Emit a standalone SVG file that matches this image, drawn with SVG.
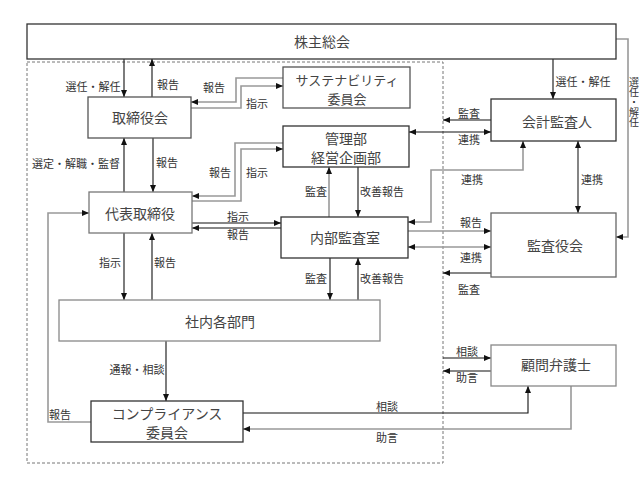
<svg xmlns="http://www.w3.org/2000/svg" width="644" height="483" viewBox="0 0 644 483">
<defs>
<style>
.bx{fill:#fff;stroke:#333;stroke-width:1.3}
.bg{fill:#fff;stroke:#777;stroke-width:1.3}
.t{font-family:"Noto Sans CJK JP","Noto Sans CJK SC",sans-serif;font-size:14px;fill:#444;text-anchor:middle;dominant-baseline:central}
.t13{font-size:13px}
.l{font-family:"Noto Sans CJK JP","Noto Sans CJK SC",sans-serif;font-size:11px;fill:#333;text-anchor:middle;dominant-baseline:central}
.v{font-family:"Noto Sans CJK JP","Noto Sans CJK SC",sans-serif;font-size:10px;fill:#333;writing-mode:vertical-rl;text-anchor:start}
.k{fill:none;stroke:#111;stroke-width:1.1;marker-end:url(#ah)}
.g{fill:none;stroke:#999;stroke-width:1.6;marker-end:url(#ah)}
.d{marker-start:url(#as)}
.zone{fill:none;stroke:#777;stroke-width:1;stroke-dasharray:3 2}
</style>
<marker id="ah" markerUnits="userSpaceOnUse" markerWidth="7" markerHeight="6" refX="7" refY="3" orient="auto"><path d="M0,0 L7,3 L0,6 z" fill="#111"/></marker>
<marker id="as" markerUnits="userSpaceOnUse" markerWidth="7" markerHeight="6" refX="7" refY="3" orient="auto-start-reverse"><path d="M0,0 L7,3 L0,6 z" fill="#111"/></marker>
</defs>
<rect width="644" height="483" fill="#fff"/>
<rect class="zone" x="27" y="62" width="416" height="401"/>

<g id="connectors">
<path class="k" d="M124,59 V97"/>
<path class="k" d="M152,97 V59"/>
<path class="g" d="M283,78 H236 V102 H191"/>
<path class="g" d="M191,108 H241 V86 H283"/>
<path class="k" d="M153,138 V192"/>
<path class="k" d="M124,192 V138"/>
<path class="g" d="M283,143 H235 V196 H192"/>
<path class="g" d="M192,201 H241 V149 H283"/>
<path class="k" d="M192,223 H281"/>
<path class="k" d="M281,228 H192"/>
<path class="g" d="M329,217 V167"/>
<path class="k" d="M358,167 V217"/>
<path class="k" d="M330,258 V300"/>
<path class="k" d="M358,300 V258"/>
<path class="k" d="M124,233 V300"/>
<path class="k" d="M152,300 V233"/>
<path class="k" d="M166,341 V401"/>
<path class="g" d="M91,422 H48 V213 H89"/>
<path class="k" d="M243,413 H528 V386"/>
<path class="g" d="M571,386 V429 H243"/>
<path class="k" d="M443,358 H491"/>
<path class="k" d="M491,371 H443"/>
<path class="k" d="M553,59 V99"/>
<path class="g" d="M616,39 H628 V237 H616"/>
<path class="k" d="M491,120 H443"/>
<path class="k d" d="M409,132 H491"/>
<path class="g d" d="M408,222 H431 V170 H523 V141"/>
<path class="g d" d="M578,141 V213" style="stroke:#666"/>
<path class="g" d="M408,231 H491"/>
<path class="g d" d="M408,247 H491"/>
<path class="k" d="M491,273 H443"/>

<text class="l" x="93" y="86">選任・解任</text>
<text class="l" x="168" y="84">報告</text>
<text class="l" x="214" y="87">報告</text>
<text class="l" x="257" y="103">指示</text>
<text class="l" x="76" y="163">選定・解職・監督</text>
<text class="l" x="167" y="162">報告</text>
<text class="l" x="220" y="172">報告</text>
<text class="l" x="257" y="172">指示</text>
<text class="l" x="238" y="216">指示</text>
<text class="l" x="238" y="234">報告</text>
<text class="l" x="316" y="191">監査</text>
<text class="l" x="382" y="191">改善報告</text>
<text class="l" x="316" y="278">監査</text>
<text class="l" x="382" y="278">改善報告</text>
<text class="l" x="110" y="262">指示</text>
<text class="l" x="165" y="262">報告</text>
<text class="l" x="137" y="369">通報・相談</text>
<text class="l" x="60" y="414">報告</text>
<text class="l" x="387" y="406">相談</text>
<text class="l" x="387" y="437">助言</text>
<text class="l" x="467" y="351">相談</text>
<text class="l" x="467" y="377">助言</text>
<text class="l" x="583" y="81">選任・解任</text>
<text class="v" x="634" y="77">選任・解任</text>
<text class="l" x="469" y="113">監査</text>
<text class="l" x="469" y="139">連携</text>
<text class="l" x="472" y="179">連携</text>
<text class="l" x="592" y="179">連携</text>
<text class="l" x="471" y="222">報告</text>
<text class="l" x="471" y="257">連携</text>
<text class="l" x="469" y="289">監査</text>
</g>

<g id="kabunushi"><rect class="bx" x="27" y="24" width="589" height="35"/><text class="t" x="322" y="41">株主総会</text></g>
<g id="torishimariyakukai"><rect class="bx" x="88" y="97" width="103" height="41" style="stroke:#555"/><text class="t" x="140" y="117">取締役会</text></g>
<g id="sustainability"><rect class="bx" x="283" y="67" width="127" height="41" style="stroke:#555"/><text class="t t13" x="347" y="79">サステナビリティ</text><text class="t t13" x="347" y="98">委員会</text></g>
<g id="kanribu"><rect class="bx" x="283" y="126" width="126" height="41"/><text class="t" x="346" y="138">管理部</text><text class="t" x="346" y="157">経営企画部</text></g>
<g id="kaikeikansanin"><rect class="bx" x="491" y="99" width="125" height="42"/><text class="t" x="557" y="121">会計監査人</text></g>
<g id="daihyo"><rect class="bg" x="89" y="192" width="103" height="41"/><text class="t" x="140" y="213">代表取締役</text></g>
<g id="naibukansa"><rect class="bx" x="281" y="217" width="127" height="41"/><text class="t" x="345" y="237">内部監査室</text></g>
<g id="kansayakukai"><rect class="bg" x="491" y="213" width="125" height="64" style="stroke:#666"/><text class="t" x="555" y="245">監査役会</text></g>
<g id="shanai"><rect class="bg" x="59" y="300" width="321" height="41" style="stroke:#888"/><text class="t" x="220" y="321">社内各部門</text></g>
<g id="compliance"><rect class="bx" x="91" y="401" width="152" height="41"/><text class="t" x="167" y="413">コンプライアンス</text><text class="t" x="167" y="432">委員会</text></g>
<g id="komon"><rect class="bg" x="491" y="345" width="125" height="41" style="stroke:#888"/><text class="t" x="556" y="364">顧問弁護士</text></g>
</svg>
